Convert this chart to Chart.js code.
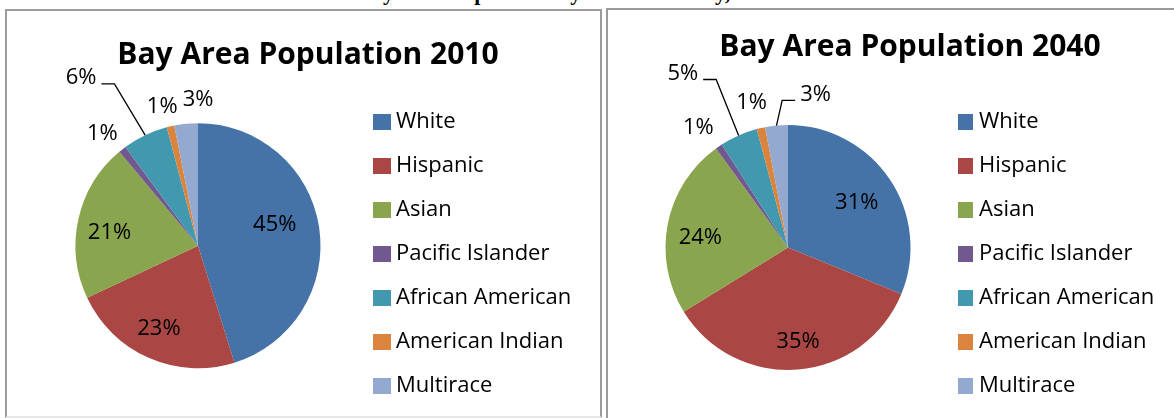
<!DOCTYPE html>
<html>
<head>
<meta charset="utf-8">
<script src="https://cdn.jsdelivr.net/npm/chart.js@4.4.2/dist/chart.umd.min.js"></script>
<style>
  html, body { margin: 0; padding: 0; background: #fff; }
  body { width: 1174px; height: 418px; overflow: hidden; position: relative; }
  .head { position: absolute; left: 0; width: 1142px; top: -18px; text-align: center;
          font: bold 22px/22px 'Liberation Serif', serif; white-space: nowrap; color: #000; }
  .box { position: absolute; border: 2px solid #9b9b9b; overflow: hidden; box-sizing: border-box; }
  #box2010 { left: 5px; top: 9px; width: 597px; height: 409px; border-bottom-color: #e6e6e6; }
  #box2040 { left: 606px; top: 8px; width: 597px; height: 420px; border-bottom: none; }
  .box canvas { position: absolute; left: 0; top: 0; }
  .title { position: absolute; left: 0; text-align: center; white-space: nowrap;
           font: bold 30px/36px 'Open Sans', sans-serif; color: #000; }
</style>
</head>
<body>
<div class="head">Chart 3: Bay Area Population by Race/Ethnicity, 2010 and 2040</div>
<div class="box" id="box2010">
  <canvas id="pie2010" width="593" height="470"></canvas>
  <div class="title" style="width:602px; top:24px;">Bay Area Population 2010</div>
</div>
<div class="box" id="box2040">
  <canvas id="pie2040" width="593" height="476"></canvas>
  <div class="title" style="width:604px; top:17px;">Bay Area Population 2040</div>
</div>
<script>
const categories = ['White', 'Hispanic', 'Asian', 'Pacific Islander', 'African American', 'American Indian', 'Multirace'];
const share2010 = [45.2, 22.8, 20.9, 1.0, 6.0, 1.0, 3.1];
const share2040 = [31.2, 35.0, 23.8, 0.9, 5.0, 1.1, 3.0];
const sliceColors = ['#4572A7', '#AA4643', '#89A54E', '#71588F', '#4198AF', '#DB843D', '#93A9CF'];

// label spots: a = degrees off the slice middle, r = distance in radii, leader = side of the line
const place2010 = [
  {a: -6.7, r: 0.65}, {a: 1.4, r: 0.75}, {a: -4, r: 0.73},
  {a: -2.4, r: 1.20}, {a: -9.3, r: 1.67, leader: 1}, {a: -1.5, r: 1.17}, {a: 5.6, r: 1.19}
];
const place2040 = [
  {a: 0.7, r: 0.67}, {a: -1.4, r: 0.77}, {a: -4.6, r: 0.72},
  {a: -2.5, r: 1.22}, {a: -7.4, r: 1.66, leader: 1}, {a: -1.3, r: 1.22}, {a: 15.6, r: 1.27, leader: -1}
];

const FONT = 'Open Sans';
const LEGEND_SIZE = 22;

const sliceLabels = {
  id: 'sliceLabels',
  afterDatasetsDraw(chart, args, opts) {
    const ctx = chart.ctx;
    const values = chart.data.datasets[0].data;
    ctx.save();
    ctx.font = opts.font;
    ctx.fillStyle = '#000';
    ctx.strokeStyle = '#000';
    ctx.lineWidth = 1.3;
    ctx.textAlign = 'center';
    ctx.textBaseline = 'middle';
    chart.getDatasetMeta(0).data.forEach((arc, i) => {
      const p = opts.place[i];
      const {x, y, startAngle, endAngle, outerRadius} =
        arc.getProps(['x', 'y', 'startAngle', 'endAngle', 'outerRadius'], true);
      const mid = (startAngle + endAngle) / 2;
      const ang = mid + p.a * Math.PI / 180;
      const lx = x + Math.cos(ang) * outerRadius * p.r;
      const ly = y + Math.sin(ang) * outerRadius * p.r;
      const text = Math.round(values[i]) + '%';
      ctx.fillText(text, lx, ly);
      if (p.leader) {
        const half = ctx.measureText(text).width / 2;
        const hy = ly + 6;
        const hx = lx + p.leader * (half + 5);
        ctx.beginPath();
        ctx.moveTo(hx, hy);
        ctx.lineTo(hx + p.leader * 13, hy);
        ctx.lineTo(x + Math.cos(mid) * outerRadius, y + Math.sin(mid) * outerRadius);
        ctx.stroke();
      }
    });
    ctx.restore();
  }
};

function widestLabel() {
  const ctx = document.createElement('canvas').getContext('2d');
  ctx.font = LEGEND_SIZE + 'px ' + FONT;
  return Math.max(...categories.map(c => ctx.measureText(c).width));
}

// lg.x = left of legend box, lg.bw/bh/lw = box drawn as small rect with a thick edge
function makePie(id, values, place, lg) {
  const canvas = document.getElementById(id);
  const W = canvas.width;
  const pad = 44 - LEGEND_SIZE;
  const right = W - lg.x - lg.bw - LEGEND_SIZE / 2 - widestLabel() - 10;
  return new Chart(canvas, {
    type: 'pie',
    data: {
      labels: categories,
      datasets: [{
        data: values,
        backgroundColor: sliceColors,
        borderWidth: 0,
        radius: 122.5
      }]
    },
    options: {
      responsive: false,
      animation: false,
      events: [],
      layout: {
        padding: {left: lg.L, right: right, top: 0, bottom: lg.B}
      },
      plugins: {
        tooltip: {enabled: false},
        legend: {
          position: 'right',
          title: {display: true, text: '', font: {size: 1, lineHeight: 1}, padding: {top: lg.h - 1, bottom: 0}},
          labels: {
            color: '#000',
            font: {family: FONT, size: LEGEND_SIZE},
            boxWidth: lg.bw,
            boxHeight: lg.bh,
            padding: pad,
            generateLabels(chart) {
              return Chart.overrides.pie.plugins.legend.labels.generateLabels(chart).map(item => {
                item.lineWidth = lg.lw;
                item.strokeStyle = item.fillStyle;
                return item;
              });
            }
          }
        },
        sliceLabels: {font: '22px "' + FONT + '"', place: place}
      }
    },
    plugins: [sliceLabels]
  });
}

makePie('pie2010', share2010, place2010, {L: 32, B: 0.6, h: 16.6, x: 372, bw: 6, bh: 4, lw: 12});
makePie('pie2040', share2040, place2040, {L: 27, B: 1, h: 13, x: 355, bw: 5, bh: 6, lw: 10});
</script>
</body>
</html>
